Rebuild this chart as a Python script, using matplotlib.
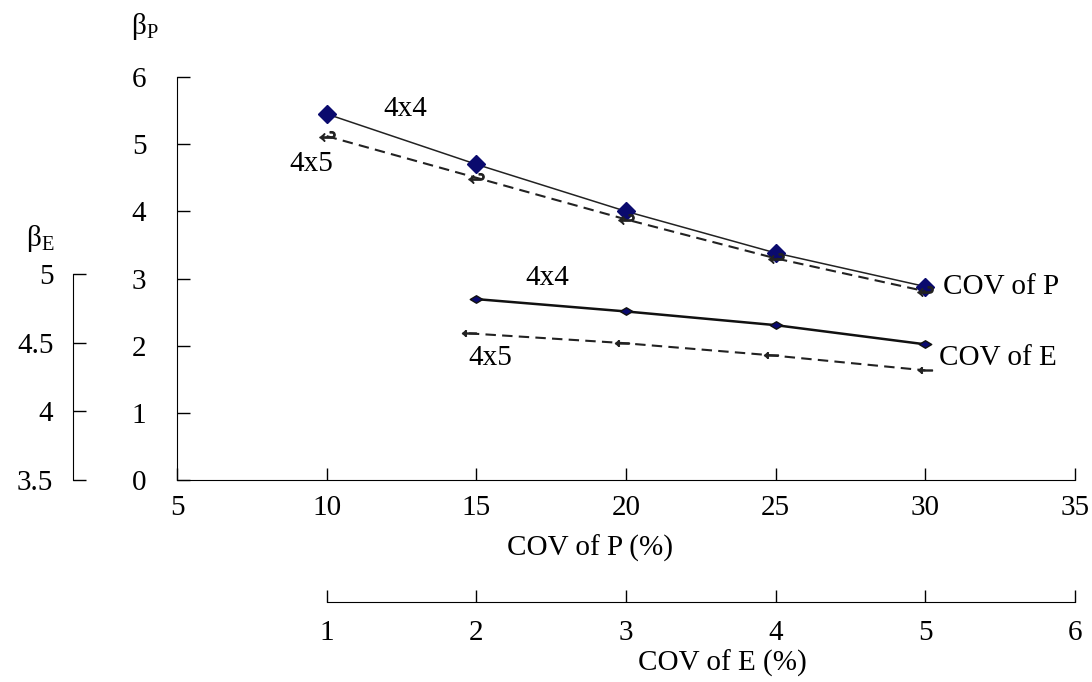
import matplotlib
matplotlib.use("Agg")
import matplotlib.pyplot as plt
from matplotlib.path import Path

plt.rcParams['font.family'] = ['Liberation Serif', 'DejaVu Serif']
plt.rcParams['mathtext.fontset'] = 'custom'
plt.rcParams['mathtext.rm'] = 'Liberation Serif'
plt.rcParams['mathtext.it'] = 'Liberation Serif:italic'

# beta_P against COV of P
cov_p = [10, 15, 20, 25, 30]
beta_p_4x4 = [5.45, 4.70, 4.00, 3.38, 2.88]
beta_p_4x5 = [5.12, 4.50, 3.88, 3.30, 2.81]

# beta_E against COV of E
cov_e_4x4 = [2, 3, 4, 5]
beta_e_4x4 = [4.82, 4.73, 4.63, 4.49]
cov_e_4x5 = [1.95, 2.97, 3.97, 5.0]
beta_e_4x5 = [4.57, 4.50, 4.41, 4.30]

p_ticks = [5, 10, 15, 20, 25, 30, 35]
bp_ticks = [0, 1, 2, 3, 4, 5, 6]
e_ticks = [1, 2, 3, 4, 5, 6]
be_ticks = [3.5, 4, 4.5, 5]

FS = 21
W, H = 1092, 682
fig = plt.figure(figsize=(W / 100, H / 100), dpi=100)
rect = [177 / W, 1 - 480 / H, (1075 - 177) / W, (480 - 77) / H]

ax = fig.add_axes(rect)
ax2 = fig.add_axes(rect)
ax2.patch.set_visible(False)

# main axes: COV of P / beta_P
ax.set_xlim(5, 35)
ax.set_ylim(0, 6)
ax.set_xticks(p_ticks)
ax.set_yticks(bp_ticks)
ax.spines['top'].set_visible(False)
ax.spines['right'].set_visible(False)
ax.tick_params(axis='x', direction='in', length=9, width=1, pad=11, labelsize=FS)
ax.tick_params(axis='y', direction='in', length=9, width=1, pad=22, labelsize=FS)

# overlay axes: COV of E / beta_E
ax2.set_xlim(0, 6)
ax2.set_ylim(3.5, 3.5 + 402 / 136.7)
ax2.spines['top'].set_visible(False)
ax2.spines['right'].set_visible(False)
ax2.spines['left'].set_position(('outward', 75))
ax2.spines['left'].set_bounds(3.5, 5)
ax2.spines['bottom'].set_position(('outward', 88))
ax2.spines['bottom'].set_bounds(1, 6)
ax2.set_xticks(e_ticks)
ax2.set_yticks(be_ticks)
ax2.set_yticklabels(['3.5', '4', '4.5', '5'])
ax2.tick_params(axis='x', direction='in', length=9, width=1, pad=13, labelsize=FS)
ax2.tick_params(axis='y', direction='in', length=9, width=1, pad=14, labelsize=FS)

flat_diamond = Path([(-1, 0), (0, 0.6), (1, 0), (0, -0.6), (-1, 0)],
                    [Path.MOVETO, Path.LINETO, Path.LINETO, Path.LINETO, Path.CLOSEPOLY])

ax.plot(cov_p, beta_p_4x4, color='#222222', lw=1.1, marker='D', ms=9,
        mfc='#0a0a6e', mec='#0a0a6e', zorder=3)
ax.plot(cov_p, beta_p_4x5, color='#222222', lw=1.5, ls=(0, (5, 3)),
        marker=r'$\hookleftarrow$', ms=11, mfc='#222222', mec='#222222', zorder=3)

ax2.plot(cov_e_4x4, beta_e_4x4, color='#111111', lw=1.8, marker=flat_diamond, ms=9,
         mfc='#0a0a6e', mec='#111111', zorder=3)
ax2.plot(cov_e_4x5, beta_e_4x5, color='#222222', lw=1.5, ls=(0, (5, 3)),
         marker=r'$\leftarrow$', ms=10, mfc='#222222', mec='#222222', zorder=3)

# in-plot labels
ax.text(12.62, 5.52, '4x4', fontsize=FS, ha='center', va='center')
ax.text(9.48, 4.70, '4x5', fontsize=FS, ha='center', va='center')
ax.text(17.36, 3.01, '4x4', fontsize=FS, ha='center', va='center')
ax.text(15.46, 1.82, '4x5', fontsize=FS, ha='center', va='center')
ax.text(30.6, 2.87, 'COV of P', fontsize=FS, ha='left', va='center')
ax.text(30.45, 1.82, 'COV of E', fontsize=FS, ha='left', va='center')

# axis titles
fig.text(590 / W, 1 - 548 / H, 'COV of P (%)', fontsize=FS, ha='center', va='center')
fig.text(722 / W, 1 - 663 / H, 'COV of E (%)', fontsize=FS, ha='center', va='center')
fig.text(145 / W, 1 - 26 / H, r'$\mathrm{β_P}$', fontsize=FS, ha='center', va='center')
fig.text(40 / W, 1 - 238 / H, r'$\mathrm{β_E}$', fontsize=FS, ha='center', va='center')

fig.savefig('out.png', dpi=100)
